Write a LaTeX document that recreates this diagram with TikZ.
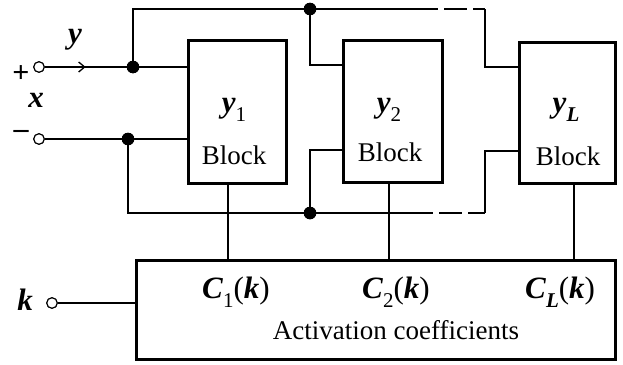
\documentclass[tikz,border=0pt]{standalone}
\usepackage{fontspec}
\setmainfont{Liberation Serif}
\usetikzlibrary{arrows.meta,decorations.markings}
\newcommand{\bi}[1]{\textbf{\textit{#1}}}
\newcommand{\lowsub}[1]{\raisebox{-0.3em}{\fontsize{21}{21}\selectfont #1}}
\begin{document}
\begin{tikzpicture}[x=1pt,y=-1pt,
  wire/.style={line width=1.5pt},
  dashwire/.style={line width=1.5pt,dash pattern=on 0pt off 6pt on 23pt off 6pt on 30pt},
  blockbox/.style={draw,line width=3pt,inner sep=0pt},
  dot/.style={circle,fill=black,inner sep=0pt,minimum size=12.5pt},
  port/.style={circle,draw,fill=white,line width=1.1pt,inner sep=0pt,minimum size=10.5pt},
  lbl/.style={font=\fontsize{27}{27}\selectfont,inner sep=0pt},
  mlbl/.style={font=\fontsize{31}{31}\selectfont,inner sep=0pt},
  sgn/.style={font=\fontsize{30}{30}\selectfont\bfseries,inner sep=0pt}]
\useasboundingbox (0,0) rectangle (623,364);

% blocks
\node[blockbox,minimum width=98pt,minimum height=143pt] (b1) at (237,111.5) {};
\node[blockbox,minimum width=99pt,minimum height=142pt] (b2) at (392.5,111) {};
\node[blockbox,minimum width=96pt,minimum height=141pt] (bL) at (567,112.5) {};
\node[blockbox,minimum width=479pt,minimum height=99pt] (act) at (375.5,309.5) {};

% block labels
\node[mlbl] (t1) at (234,110) {\bi{y}\lowsub{1}};
\node[lbl] (k1) at (234,155) {Block};
\node[mlbl] (t2) at (389,110) {\bi{y}\lowsub{2}};
\node[lbl] (k2) at (390,152) {Block};
\node[mlbl] (tL) at (566,110) {\bi{y}\raisebox{-0.3em}{\fontsize{21}{21}\selectfont\bi{L}}};
\node[lbl] (kL) at (568,156) {Block};

\node[mlbl] (c1) at (236,292) {\bi{C}\lowsub{1}(\bi{k})};
\node[mlbl] (c2) at (396,292) {\bi{C}\lowsub{2}(\bi{k})};
\node[mlbl] (cL) at (560,292) {\bi{C}\raisebox{-0.3em}{\fontsize{21}{21}\selectfont\bi{L}}(\bi{k})};
\node[lbl] (acttxt) at (396,330) {Activation coefficients};

% inputs
\node[port] (in1) at (39,67) {};
\node[port] (in2) at (39,139) {};
\node[port] (kin) at (52,303) {};
\node[mlbl] (ylab) at (75,40) {\bi{y}};
\node[mlbl] (xlab) at (36,100) {\bi{x}};
\node[mlbl] (klab) at (25,300) {\bi{k}};
\node[sgn] (plus) at (21,74) {+};
\node[sgn] (minus) at (21,134) {\textendash};

% junctions
\node[dot] (jy) at (133,67) {};
\node[dot] (jx) at (128,139) {};
\node[dot] (jt) at (310,9) {};
\node[dot] (jb) at (310,213) {};

\coordinate (dt1) at (438,9);
\coordinate (dt2) at (485,9);
\coordinate (db1) at (433,213);
\coordinate (db2) at (485,213);
\coordinate (b2a) at (b2.west |- 0,65);
\coordinate (b2b) at (b2.west |- 0,150);
\coordinate (bLa) at (bL.west |- 0,67);
\coordinate (bLb) at (bL.west |- 0,151);

% wires
\draw[wire,postaction={decorate},decoration={markings,mark=at position 0.5 with {\arrow{Straight Barb[length=6pt,width=10pt,line width=1.3pt]}}}] (in1) -- (jy);
\draw[wire] (jy) -- (b1.west |- jy);
\draw[wire] (in2) -- (jx);
\draw[wire] (jx) -- (b1.west |- jx);
\draw[wire] (jy) |- (jt);
\draw[wire] (jt) -- (dt1);
\draw[dashwire] (dt1) -- (dt2);
\draw[wire] (dt2) |- (bLa);
\draw[wire] (jt) |- (b2a);
\draw[wire] (jx) |- (jb);
\draw[wire] (jb) -- (db1);
\draw[dashwire] (db1) -- (db2);
\draw[wire] (db2) |- (bLb);
\draw[wire] (jb) |- (b2b);

\draw[wire] ([xshift=-9pt]b1.south) -- ([xshift=-9pt]b1.south |- act.north);
\draw[wire] ([xshift=-3.5pt]b2.south) -- ([xshift=-3.5pt]b2.south |- act.north);
\draw[wire] ([xshift=7pt]bL.south) -- ([xshift=7pt]bL.south |- act.north);
\draw[wire] (kin) -- (kin -| act.west);

% redraw dots and ports on top
\node[dot] at (jy) {};
\node[dot] at (jx) {};
\node[dot] at (jt) {};
\node[dot] at (jb) {};
\node[port] at (in1) {};
\node[port] at (in2) {};
\node[port] at (kin) {};
\end{tikzpicture}
\end{document}
